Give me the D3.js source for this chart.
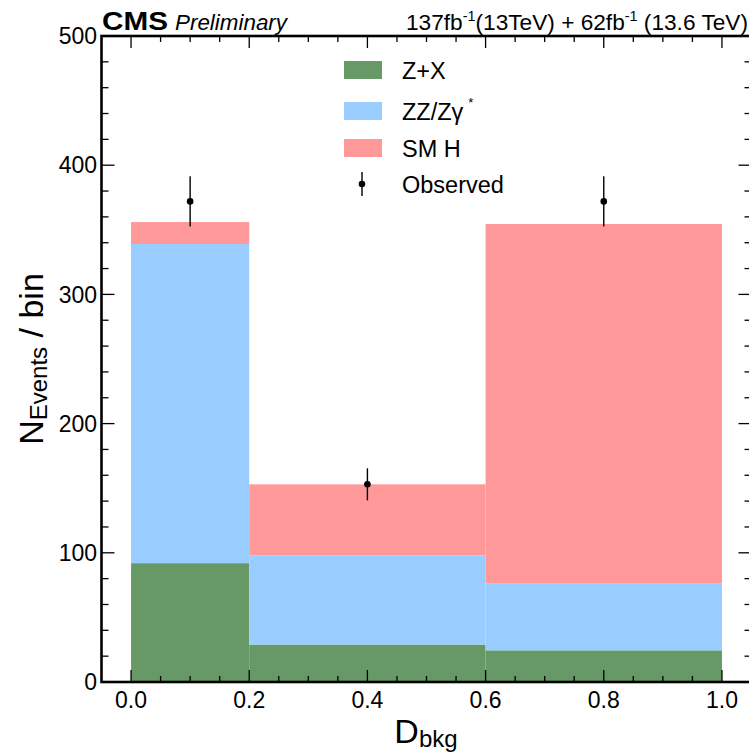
<!DOCTYPE html>
<html>
<head>
<meta charset="utf-8">
<script src="https://cdn.jsdelivr.net/npm/d3@7"></script>
<style>
html, body { margin: 0; padding: 0; background: #fff; }
svg { display: block; font-family: "Liberation Sans", Arial, Helvetica, sans-serif; }
</style>
</head>
<body>
<svg id="chart" width="749" height="755"></svg>
<script>
// ---- data ----
const binEdges = [0.0, 0.2, 0.6, 1.0];
const zxValues = [92, 29, 24.5];        // Z+X
const zzValues = [247, 69, 52];         // ZZ/Zgamma*
const smhValues = [17, 55, 278];        // SM H
const obsValues = [372, 153, 372];      // Observed
const obsErrors = [19.5, 12.4, 19.5];
const xTickLabels = ["0.0", "0.2", "0.4", "0.6", "0.8", "1.0"];
const yTickValues = [0, 100, 200, 300, 400, 500];
const seriesNames = ["Z+X", "ZZ/Zγ", "SM H"];
const seriesColors = ["#669966", "#99ccff", "#ff9999"];

// ---- layout ----
const svg = d3.select("#chart");
const L = 101.5, R = 751.5, T = 36, B = 682;
const x = d3.scaleLinear().domain([-0.05, 1.05]).range([L, R]);
const y = d3.scaleLinear().domain([0, 500]).range([B, T]);

// stacked bins
const bins = binEdges.slice(0, -1).map((e, i) => ({
  x0: e, x1: binEdges[i + 1],
  vals: [zxValues[i], zzValues[i], smhValues[i]]
}));
const stackRows = [];
bins.forEach(b => {
  let base = 0;
  b.vals.forEach((v, k) => {
    stackRows.push({ x0: b.x0, x1: b.x1, y0: base, y1: base + v, k });
    base += v;
  });
});
svg.append("g").selectAll("rect").data(stackRows).join("rect")
  .attr("x", d => x(d.x0))
  .attr("width", d => x(d.x1) - x(d.x0))
  .attr("y", d => y(d.y1))
  .attr("height", d => y(d.y0) - y(d.y1))
  .attr("fill", d => seriesColors[d.k]);

// observed points
const mids = bins.map(b => (b.x0 + b.x1) / 2);
const og = svg.append("g");
og.selectAll("line").data(obsValues).join("line")
  .attr("x1", (d, i) => x(mids[i])).attr("x2", (d, i) => x(mids[i]))
  .attr("y1", (d, i) => y(d + obsErrors[i])).attr("y2", (d, i) => y(d - obsErrors[i]))
  .attr("stroke", "#000").attr("stroke-width", 1.4);
og.selectAll("circle").data(obsValues).join("circle")
  .attr("cx", (d, i) => x(mids[i])).attr("cy", d => y(d))
  .attr("r", 3.3).attr("fill", "#000");

// ---- axes ----
const xMajor = d3.range(0, 1.0001, 0.2);
const xMinor = d3.range(0, 1.0001, 0.05).filter(v => Math.abs(v * 5 - Math.round(v * 5)) > 1e-6);
const yMajor = yTickValues;
const yMinor = d3.range(0, 500.001, 20).filter(v => v % 100 !== 0);

const tk = svg.append("g").attr("stroke", "#000").attr("stroke-width", 1.3);
// bottom & top ticks
[[xMajor, 12], [xMinor, 6]].forEach(([vals, len]) => {
  vals.forEach(v => {
    tk.append("line").attr("x1", x(v)).attr("x2", x(v)).attr("y1", B).attr("y2", B - len);
    tk.append("line").attr("x1", x(v)).attr("x2", x(v)).attr("y1", T).attr("y2", T + len);
  });
});
// left & right ticks
[[yMajor, 13], [yMinor, 7]].forEach(([vals, len]) => {
  vals.forEach(v => {
    tk.append("line").attr("x1", L).attr("x2", L + len).attr("y1", y(v)).attr("y2", y(v));
    tk.append("line").attr("x1", R).attr("x2", R - len).attr("y1", y(v)).attr("y2", y(v));
  });
});

// frame
svg.append("rect").attr("x", L).attr("y", T).attr("width", R - L).attr("height", B - T)
  .attr("fill", "none").attr("stroke", "#000").attr("stroke-width", 2.6);

// tick labels
svg.append("g").selectAll("text").data(xMajor).join("text")
  .attr("x", d => x(d)).attr("y", 708)
  .attr("text-anchor", "middle").attr("font-size", 23)
  .text((d, i) => xTickLabels[i]);
svg.append("g").selectAll("text").data(yMajor).join("text")
  .attr("x", 97).attr("y", d => y(d) + 8.2)
  .attr("text-anchor", "end").attr("font-size", 23)
  .text(d => d);

// axis titles
const xt = svg.append("text").attr("x", 426).attr("y", 743)
  .attr("text-anchor", "middle").attr("font-size", 34);
xt.append("tspan").text("D");
xt.append("tspan").attr("font-size", 24).attr("dy", 4).text("bkg");

const yt = svg.append("text")
  .attr("transform", "translate(43,359) rotate(-90)")
  .attr("text-anchor", "middle").attr("font-size", 34);
yt.append("tspan").text("N");
yt.append("tspan").attr("font-size", 24).attr("dy", 4).text("Events");
yt.append("tspan").attr("dy", -4).text(" / bin");

// ---- legend ----
const lg = svg.append("g");
const legY = [70, 111, 148];
seriesNames.forEach((n, i) => {
  lg.append("rect").attr("x", 344).attr("y", legY[i] - 9).attr("width", 38).attr("height", 18)
    .attr("fill", seriesColors[i]);
  const t = lg.append("text").attr("x", 402).attr("y", legY[i] + 9).attr("font-size", 23.5).text(n);
  if (i === 1) t.append("tspan").attr("font-size", 13).attr("dy", -13).attr("dx", 5).text("*");
});
lg.append("line").attr("x1", 362).attr("x2", 362).attr("y1", 172).attr("y2", 196)
  .attr("stroke", "#000").attr("stroke-width", 1.4);
lg.append("circle").attr("cx", 362).attr("cy", 184).attr("r", 3.3).attr("fill", "#000");
lg.append("text").attr("x", 402).attr("y", 192.5).attr("font-size", 23.5).text("Observed");

// ---- header ----
svg.append("text").attr("x", 102).attr("y", 30).attr("font-size", 25).attr("font-weight", "bold")
  .attr("textLength", 66).attr("lengthAdjust", "spacingAndGlyphs").text("CMS");
svg.append("text").attr("x", 175).attr("y", 30).attr("font-size", 22).attr("font-style", "italic")
  .attr("textLength", 112).attr("lengthAdjust", "spacingAndGlyphs").text("Preliminary");
const lumi = svg.append("text").attr("x", 748).attr("y", 30).attr("text-anchor", "end")
  .attr("font-size", 22).attr("textLength", 342).attr("lengthAdjust", "spacingAndGlyphs");
lumi.append("tspan").text("137fb");
lumi.append("tspan").attr("font-size", 14).attr("dy", -9).text("-1");
lumi.append("tspan").attr("dy", 9).text("(13TeV) + 62fb");
lumi.append("tspan").attr("font-size", 14).attr("dy", -9).text("-1");
lumi.append("tspan").attr("dy", 9).text(" (13.6 TeV)");
</script>
</body>
</html>
